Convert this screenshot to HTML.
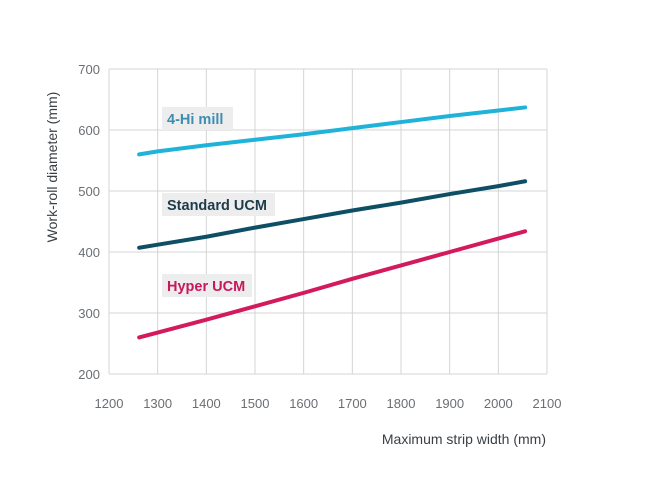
<!DOCTYPE html>
<html><head><meta charset="utf-8"><style>
body{margin:0;background:#fff;}
svg{display:block;font-family:"Liberation Sans",sans-serif;}
</style></head><body>
<svg id="chart" width="650" height="500">
<g id="grid"></g>
<g id="labels"></g>
<g id="series"></g>
<text x="546" y="444" text-anchor="end" font-size="14" fill="#3a3f44">Maximum strip width (mm)</text>
<text transform="translate(57,167) rotate(-90)" text-anchor="middle" font-size="14" fill="#3a3f44">Work-roll diameter (mm)</text>
</svg>
<script>
const xTicks=[1200,1300,1400,1500,1600,1700,1800,1900,2000,2100];
const yTicks=[200,300,400,500,600,700];
const xs=[1262,1300,1400,1500,1600,1700,1800,1900,2000,2055];
const fourHi=[560,565,575,584,593,603,613,623,632,637];
const standardUcm=[407,412,425,440,454,468,481,495,508,516];
const hyperUcm=[260,268,289,311,333,356,378,400,422,434];
const seriesNames=["4-Hi mill","Standard UCM","Hyper UCM"];
const NS="http://www.w3.org/2000/svg";
const X0=109,X1=547,Y0=374,Y1=69;
const sx=v=>X0+(v-1200)/900*(X1-X0);
const sy=v=>Y0-(v-200)/500*(Y0-Y1);
function mk(t,a,p){const e=document.createElementNS(NS,t);for(const k in a)e.setAttribute(k,a[k]);p.appendChild(e);return e;}
const grid=document.getElementById('grid'),lab=document.getElementById('labels'),ser=document.getElementById('series');
xTicks.forEach(t=>{
 const l=mk('line',{x1:sx(t),x2:sx(t),y1:Y1,y2:Y0,stroke:'#d4d4d4','stroke-width':1},grid);
 
 
 const tx=mk('text',{x:sx(t),y:408,'text-anchor':'middle','font-size':13,fill:'#6b6f73'},lab);
 tx.textContent=t;
 
 
});
yTicks.forEach(t=>{
 const l=mk('line',{x1:X0,x2:X1,y1:sy(t),y2:sy(t),stroke:'#d4d4d4','stroke-width':1},grid);
 
 
 const tx=mk('text',{x:100,y:sy(t)+5,'text-anchor':'end','font-size':13,fill:'#6b6f73'},lab);
 tx.textContent=t;
 
 
});
const defs=[[fourHi,'#1fb3d9','#3d8db0',107,71,'four-hi-mill'],[standardUcm,'#0e4f66','#1d3c4b',193,113,'standard-ucm'],[hyperUcm,'#d21a5c','#c8175a',274,90,'hyper-ucm']];
defs.forEach((d,i)=>{
 const p=mk('polyline',{points:xs.map((x,j)=>sx(x)+','+sy(d[0][j])).join(' '),fill:'none',stroke:d[1],'stroke-width':4,'stroke-linecap':'round','stroke-linejoin':'round'},ser);
 
 
 const r=mk('rect',{x:162,y:d[3],width:d[4],height:23,fill:'#ededed'},ser);
 
 
 const t=mk('text',{x:167,y:d[3]+17,'font-size':14.5,'font-weight':'bold',fill:d[2]},ser);
 t.textContent=seriesNames[i];
 
 
});
</script>
</body></html>
